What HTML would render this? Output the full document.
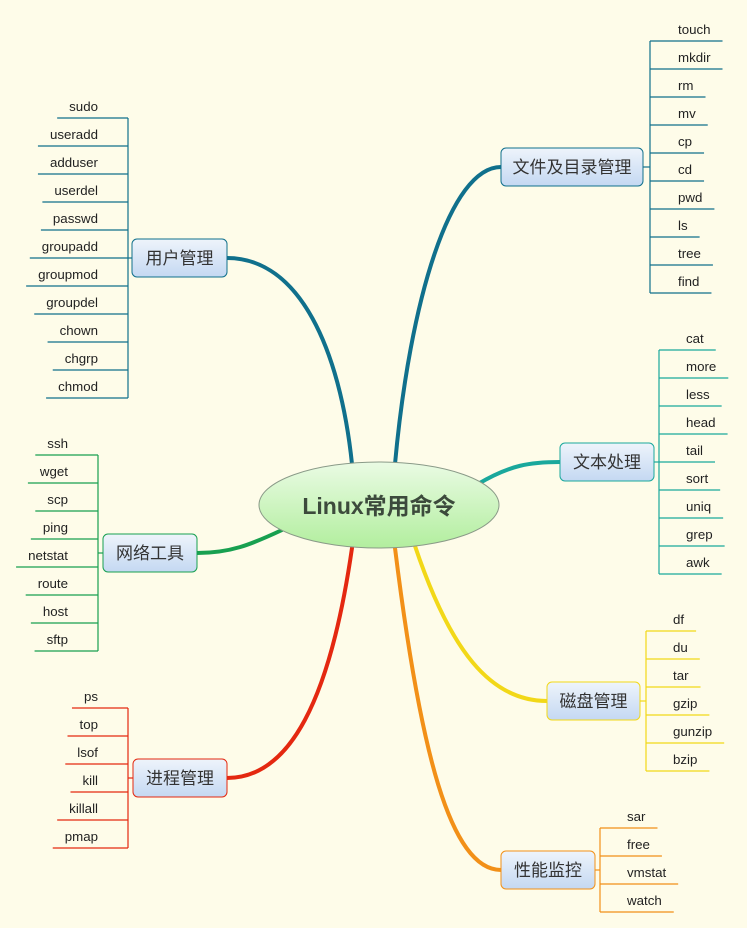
<!DOCTYPE html>
<html><head><meta charset="utf-8"><style>
html,body{margin:0;padding:0;background:#fefce9;}
svg{display:block}
text{font-family:"Liberation Sans","Noto Sans CJK SC",sans-serif;}
</style></head><body>
<svg id="s" width="747" height="928" viewBox="0 0 747 928" xmlns="http://www.w3.org/2000/svg">
<defs>
<linearGradient id="nb" x1="0" y1="0" x2="0" y2="1"><stop offset="0" stop-color="#eef4fb"/><stop offset="1" stop-color="#c4d8f2"/></linearGradient>
<linearGradient id="cg" x1="0" y1="0" x2="0" y2="1"><stop offset="0" stop-color="#eafbe4"/><stop offset="1" stop-color="#b2ee9e"/></linearGradient>
</defs>
<g fill="none" stroke-linecap="round">
<path d="M352,464 C340,350 300,258 227,258" stroke="#10708c" stroke-width="4"/>
<path d="M395,464 C410,300 450,167 501,167" stroke="#10708c" stroke-width="4"/>
<path d="M478,484 C510,465 530,462 560,462" stroke="#1aa89c" stroke-width="4"/>
<path d="M415,546 C450,650 490,701 547,701" stroke="#f2d818" stroke-width="4"/>
<path d="M395,548 C420,750 450,870 501,870" stroke="#f29018" stroke-width="4"/>
<path d="M352,548 C330,700 290,778 227,778" stroke="#e42810" stroke-width="4"/>
<path d="M282,530 C250,545 230,553 197,553" stroke="#18a050" stroke-width="4"/>
</g>
<ellipse cx="379" cy="505" rx="120" ry="43" fill="url(#cg)" stroke="#8a9a88" stroke-width="1"/>
<text x="379" y="514" text-anchor="middle" font-size="23" font-weight="bold" fill="#3c4a3c">Linux常用命令</text>
<g id="g"></g>
</svg>
<script>
var groups=[
 {name:"文件及目录管理",bx:501,by:148,bw:142,c:"#10708c",side:1,br:650,tx:678,y0:29,items:["touch","mkdir","rm","mv","cp","cd","pwd","ls","tree","find"]},
 {name:"文本处理",bx:560,by:443,bw:94,c:"#1aa89c",side:1,br:659,tx:686,y0:338,items:["cat","more","less","head","tail","sort","uniq","grep","awk"]},
 {name:"磁盘管理",bx:547,by:682,bw:93,c:"#f2d818",side:1,br:646,tx:673,y0:619,items:["df","du","tar","gzip","gunzip","bzip"]},
 {name:"性能监控",bx:501,by:851,bw:94,c:"#f29018",side:1,br:600,tx:627,y0:816,items:["sar","free","vmstat","watch"]},
 {name:"用户管理",bx:132,by:239,bw:95,c:"#10708c",side:-1,br:128,tx:98,y0:106,items:["sudo","useradd","adduser","userdel","passwd","groupadd","groupmod","groupdel","chown","chgrp","chmod"]},
 {name:"网络工具",bx:103,by:534,bw:94,c:"#18a050",side:-1,br:98,tx:68,y0:443,items:["ssh","wget","scp","ping","netstat","route","host","sftp"]},
 {name:"进程管理",bx:133,by:759,bw:94,c:"#e42810",side:-1,br:128,tx:98,y0:696,items:["ps","top","lsof","kill","killall","pmap"]}
];
var NS="http://www.w3.org/2000/svg",g=document.getElementById("g");
function el(t,a,txt){var e=document.createElementNS(NS,t);for(var k in a)e.setAttribute(k,a[k]);if(txt)e.textContent=txt;g.appendChild(e);return e;}
groups.forEach(function(G){
 var n=G.items.length,uy0=G.y0+12,uy1=G.y0+12+(n-1)*28;
 el("line",{x1:G.br,y1:uy0,x2:G.br,y2:uy1,stroke:G.c,"stroke-width":1.2});
 var nyc=G.by+19;
 if(G.side>0) el("line",{x1:G.bx+G.bw,y1:nyc,x2:G.br,y2:nyc,stroke:G.c,"stroke-width":1.2});
 else el("line",{x1:G.br,y1:nyc,x2:G.bx,y2:nyc,stroke:G.c,"stroke-width":1.2});
 G.items.forEach(function(it,i){
  var y=G.y0+i*28;
  var t=el("text",{x:G.tx,y:y+5,"font-size":13.3,fill:"#222","text-anchor":G.side>0?"start":"end"},it);
  var w=t.getComputedTextLength();
  if(G.side>0) el("line",{x1:G.br,y1:y+12,x2:G.tx+w+12,y2:y+12,stroke:G.c,"stroke-width":1.2});
  else el("line",{x1:G.tx-w-12,y1:y+12,x2:G.br,y2:y+12,stroke:G.c,"stroke-width":1.2});
 });
 el("rect",{x:G.bx,y:G.by,width:G.bw,height:38,rx:5,fill:"url(#nb)",stroke:G.c,"stroke-width":1});
 el("text",{x:G.bx+G.bw/2,y:G.by+25,"font-size":17,fill:"#333","text-anchor":"middle"},G.name);
});
</script>
</body></html>
